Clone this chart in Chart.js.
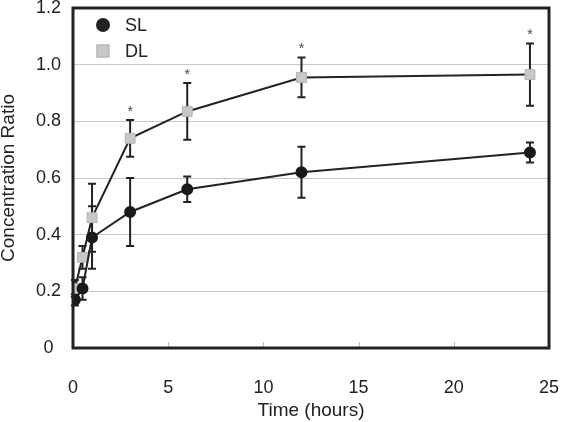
<!DOCTYPE html>
<html>
<head>
<meta charset="utf-8">
<script src="https://cdn.jsdelivr.net/npm/chart.js@4.4.1/dist/chart.umd.min.js"></script>
<style>
  body { margin: 0; background: #fff; }
  #myChart { display: block; }
</style>
</head>
<body>
<canvas id="myChart" width="561" height="422"></canvas>
<script>
// time points (hours)
var hours = [0.1, 0.5, 1, 3, 6, 12, 24];

// SL series
var slMean = [0.17, 0.21, 0.39, 0.48, 0.56, 0.62, 0.69];
var slErr  = [0.02, 0.04, 0.11, 0.12, 0.045, 0.09, 0.035];

// DL series
var dlMean = [0.21, 0.32, 0.46, 0.74, 0.835, 0.955, 0.965];
var dlErr  = [0.03, 0.04, 0.12, 0.065, 0.10, 0.07, 0.11];

// asterisks over DL (significant points)
var starHours = [3, 6, 12, 24];

var xTicks = [0, 5, 10, 15, 20, 25];
var yTicks = [0, 0.2, 0.4, 0.6, 0.8, 1.0, 1.2];

var ink = '#222';
var font = 'Liberation Sans, Arial, sans-serif';

function pts(means) {
    return hours.map(function(h, i){ return {x: h, y: means[i]}; });
}

var extras = {
    id: 'extras',
    beforeDatasetsDraw: function(chart) {
        var c = chart.ctx, xs = chart.scales.x, ys = chart.scales.y;
        c.save();
        c.strokeStyle = ink;
        c.lineWidth = 2;
        [[slMean, slErr], [dlMean, dlErr]].forEach(function(s){
            hours.forEach(function(h, i){
                var px = xs.getPixelForValue(h);
                var top = ys.getPixelForValue(s[0][i] + s[1][i]);
                var bot = ys.getPixelForValue(s[0][i] - s[1][i]);
                c.beginPath();
                c.moveTo(px, top); c.lineTo(px, bot);
                c.moveTo(px - 4, top); c.lineTo(px + 4, top);
                c.moveTo(px - 4, bot); c.lineTo(px + 4, bot);
                c.stroke();
            });
        });
        // small inner ticks on x axis
        var a = chart.chartArea;
        c.strokeStyle = '#bbb';
        c.lineWidth = 1;
        xTicks.slice(1, -1).forEach(function(t){
            var px = Math.round(xs.getPixelForValue(t)) + 0.5;
            c.beginPath();
            c.moveTo(px, a.bottom); c.lineTo(px, a.bottom - 6);
            c.stroke();
        });
        c.restore();
    },
    afterDraw: function(chart) {
        var c = chart.ctx, xs = chart.scales.x, ys = chart.scales.y, a = chart.chartArea;
        c.save();
        // frame
        c.strokeStyle = ink;
        c.lineWidth = 3;
        c.strokeRect(a.left, a.top, a.right - a.left, a.bottom - a.top);
        // asterisks
        c.fillStyle = '#444';
        c.font = '14px ' + font;
        c.textAlign = 'center';
        c.textBaseline = 'middle';
        starHours.forEach(function(h){
            var i = hours.indexOf(h);
            var px = xs.getPixelForValue(h);
            var py = ys.getPixelForValue(dlMean[i] + dlErr[i]) - 12;
            c.fillText('*', px, py + 4);
        });
        // legend
        c.font = '18px ' + font;
        c.textAlign = 'left';
        c.fillStyle = ink;
        c.beginPath();
        c.arc(a.left + 30, a.top + 17, 7, 0, Math.PI * 2);
        c.fill();
        c.fillText('SL', a.left + 52, a.top + 18);
        c.fillStyle = '#c8c8c8';
        c.fillRect(a.left + 23.5, a.top + 36.5, 13, 13);
        c.strokeStyle = '#b0b0b0';
        c.lineWidth = 1;
        c.strokeRect(a.left + 24, a.top + 37, 12, 12);
        c.fillStyle = ink;
        c.fillText('DL', a.left + 52, a.top + 44);
        c.restore();
    }
};

var ctx = document.getElementById('myChart');
var myChart = new Chart(ctx, {
    type: 'line',
    data: {
        datasets: [{
            label: 'SL',
            data: pts(slMean),
            borderColor: ink,
            borderWidth: 2,
            pointStyle: 'circle',
            pointRadius: 5,
            pointBackgroundColor: '#1a1a1a',
            pointBorderColor: '#1a1a1a',
            tension: 0
        }, {
            label: 'DL',
            data: pts(dlMean),
            borderColor: ink,
            borderWidth: 2,
            pointStyle: 'rect',
            pointRadius: 7,
            pointBackgroundColor: '#c8c8c8',
            pointBorderColor: '#b4b4b4',
            pointBorderWidth: 1,
            tension: 0
        }]
    },
    options: {
        responsive: false,
        animation: false,
        layout: { padding: { top: 5, right: 12, left: 0, bottom: 0 } },
        plugins: { legend: { display: false }, tooltip: { enabled: false } },
        scales: {
            x: {
                type: 'linear',
                min: 0, max: 25,
                afterBuildTicks: function(s){ s.ticks = xTicks.map(function(v){ return {value: v}; }); },
                afterFit: function(s){
                    s.height = 74;
                    s.paddingLeft = 0; s.paddingRight = 0;
                },
                grid: { display: false },
                border: { display: false },
                ticks: { color: ink, font: { family: font, size: 18 }, padding: 21, maxRotation: 0 },
                title: { display: true, text: 'Time (hours)', color: ink, font: { family: font, size: 19 }, padding: { top: 4, bottom: 0 } }
            },
            y: {
                min: 0, max: 1.2,
                afterBuildTicks: function(s){ s.ticks = yTicks.map(function(v){ return {value: v}; }); },
                afterFit: function(s){
                    s.width = 73;
                    s.paddingTop = 0; s.paddingBottom = 0;
                },
                grid: { color: '#c8c8c8', lineWidth: 1, drawTicks: false },
                border: { display: false },
                ticks: {
                    color: ink, font: { family: font, size: 18 }, padding: 12, crossAlign: 'center',
                    callback: function(v){ return v === 0 ? '0' : v.toFixed(1); }
                },
                title: { display: true, text: 'Concentration Ratio', color: ink, font: { family: font, size: 19 }, padding: { top: -3, bottom: 4 } }
            }
        }
    },
    plugins: [extras]
});
</script>
</body>
</html>
